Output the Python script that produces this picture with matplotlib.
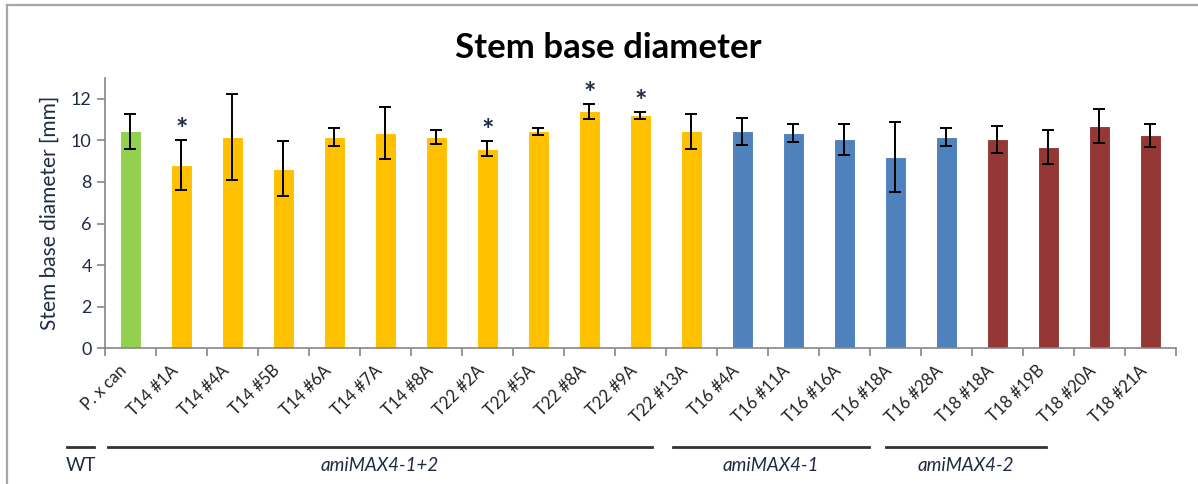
import matplotlib
matplotlib.use('Agg')
import matplotlib.pyplot as plt
from matplotlib.lines import Line2D
import matplotlib.transforms as mtransforms

plt.rcParams['font.family'] = ['Lato', 'DejaVu Sans']

labels = ['P. x can', 'T14 #1A', 'T14 #4A', 'T14 #5B', 'T14 #6A', 'T14 #7A', 'T14 #8A',
          'T22 #2A', 'T22 #5A', 'T22 #8A', 'T22 #9A', 'T22 #13A',
          'T16 #4A', 'T16 #11A', 'T16 #16A', 'T16 #18A', 'T16 #28A',
          'T18 #18A', 'T18 #19B', 'T18 #20A', 'T18 #21A']
means = [10.43, 8.83, 10.16, 8.64, 10.16, 10.35, 10.16,
         9.60, 10.43, 11.39, 11.20, 10.43,
         10.43, 10.35, 10.05, 9.20, 10.16,
         10.05, 9.68, 10.70, 10.24]
errors = [0.83, 1.20, 2.05, 1.31, 0.45, 1.25, 0.35,
          0.35, 0.17, 0.35, 0.15, 0.85,
          0.64, 0.45, 0.75, 1.68, 0.45,
          0.64, 0.81, 0.82, 0.56]
groups = ['wt'] + ['m12'] * 11 + ['m1'] * 5 + ['m2'] * 4
group_colors = {'wt': '#92D050', 'm12': '#FFC000', 'm1': '#4F81BD', 'm2': '#953735'}
significant = [1, 7, 9, 10]

# group lines under the labels: (name, start, end) in category units
group_spans = [('WT', -1.25, -0.71), ('amiMAX4-1+2', -0.44, 10.22),
               ('amiMAX4-1', 10.63, 14.48), ('amiMAX4-2', 14.81, 17.96)]

fig = plt.figure(figsize=(11.98, 4.84), dpi=100)
ax = fig.add_axes([0.0876, 0.2804, 0.8940, 0.5584])

x = list(range(len(labels)))
colors = [group_colors[g] for g in groups]
ax.bar(x, means, width=0.4, color=colors, edgecolor='white', linewidth=0.8, zorder=2)
ax.errorbar(x, means, yerr=errors, fmt='none', ecolor='black', elinewidth=1.4,
            capsize=4, capthick=1.4, zorder=3)

for i in significant:
    ax.annotate('*', (i, means[i] + errors[i]), xytext=(0, -2), textcoords='offset points',
                ha='center', va='bottom', fontsize=21, fontweight='bold', color='#1F2A44')

ax.set_xlim(-0.5, len(labels) - 0.5)
ax.set_ylim(0, 13)
ax.set_yticks(range(0, 13, 2))
ax.set_xticks([i - 0.5 for i in range(len(labels) + 1)])
ax.set_xticklabels([])
ax.tick_params(axis='x', length=6, width=1.2, color='#868686', direction='out')
ax.tick_params(axis='y', length=6, width=1.2, color='#868686', direction='out',
               labelsize=13, labelcolor='#1F2A44')
for i, lab in enumerate(labels):
    ax.text(i - 0.12, -0.95, lab, rotation=45, rotation_mode='anchor', ha='right', va='center',
            fontsize=12, color='#222222')

for s in ['top', 'right']:
    ax.spines[s].set_visible(False)
for s in ['left', 'bottom']:
    ax.spines[s].set_color('#868686')
    ax.spines[s].set_linewidth(1.2)

ax.set_ylabel('Stem base diameter [mm]', fontsize=15, color='#1F2A44', labelpad=8)
fig.text(0.508, 0.90, 'Stem base diameter', ha='center', va='center',
         fontsize=25, fontweight='bold')

trans = mtransforms.blended_transform_factory(ax.transData, fig.transFigure)
for name, a, b in group_spans:
    ax.add_line(Line2D([a, b], [0.077, 0.077], transform=trans, color='#333333',
                       linewidth=2.0, clip_on=False))
    style = 'normal' if name == 'WT' else 'italic'
    ax.text((a + b) / 2, 0.038, name, transform=trans, ha='center', va='center',
            fontsize=13.5, style=style, color='#1F2A44')

# frame around the chart
fig.add_artist(Line2D([0.0058, 0.0058], [0, 0.9897], transform=fig.transFigure,
                      color='#A6A6A6', linewidth=1.6))
fig.add_artist(Line2D([0.0058, 1], [0.9897, 0.9897], transform=fig.transFigure,
                      color='#A6A6A6', linewidth=1.6))

fig.savefig('out.png', dpi=100)
